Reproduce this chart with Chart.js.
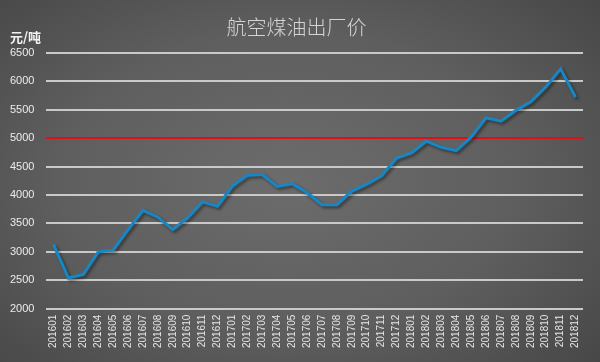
<!DOCTYPE html>
<html>
<head>
<meta charset="utf-8">
<script src="https://cdn.jsdelivr.net/npm/chart.js@4/dist/chart.umd.min.js"></script>
<style>
  html, body { margin: 0; padding: 0; }
  #wrap {
    width: 600px; height: 362px; position: relative;
    background: radial-gradient(ellipse 70% 75% at 48% 50%, #6c6c6c 0%, #5e5e5e 55%, #474747 100%);
  }
</style>
</head>
<body>
<div id="wrap"><canvas id="chart" width="600" height="362"></canvas></div>
<script>
const months = [
  '201601','201602','201603','201604','201605','201606','201607','201608','201609','201610','201611','201612',
  '201701','201702','201703','201704','201705','201706','201707','201708','201709','201710','201711','201712',
  '201801','201802','201803','201804','201805','201806','201807','201808','201809','201810','201811','201812'
];
const price = [
  3130, 2540, 2600, 3000, 3030, 3390, 3730, 3610, 3390, 3600, 3880, 3800,
  4160, 4350, 4360, 4150, 4200, 4040, 3830, 3830, 4070, 4190, 4340, 4650,
  4740, 4950, 4840, 4780, 5020, 5360, 5300, 5490, 5640, 5900, 6220, 5720
];
const yMin = 2000;
const yMax = 6500;
const yStep = 500;
const refLine = 5000;
const title = '航空煤油出厂价';
const unit = '元/吨';

const fontCJK = '"Noto Sans CJK SC", "Noto Sans", sans-serif';

// shadow under the blue line + unit label in the corner
const extras = {
  id: 'extras',
  beforeDatasetsDraw(chart) {
    const c = chart.ctx;
    c.save();
    c.shadowColor = 'rgba(0,0,0,0.45)';
    c.shadowBlur = 3;
    c.shadowOffsetX = 2;
    c.shadowOffsetY = 2;
  },
  afterDatasetsDraw(chart) {
    chart.ctx.restore();
  },
  afterDraw(chart) {
    const c = chart.ctx;
    c.save();
    c.fillStyle = '#f2f2f2';
    c.font = 'bold 13px ' + fontCJK;
    c.textBaseline = 'middle';
    c.fillText(unit, 10, 37);
    c.restore();
  }
};

new Chart(document.getElementById('chart'), {
  type: 'line',
  data: {
    labels: months,
    datasets: [{
      data: price,
      borderColor: '#1786c4',
      borderWidth: 3,
      pointRadius: 0,
      tension: 0,
      fill: false
    }]
  },
  options: {
    responsive: false,
    animation: false,
    layout: { padding: { left: 10, right: 17, top: 0, bottom: 8 } },
    plugins: {
      legend: { display: false },
      tooltip: { enabled: false },
      title: {
        display: true,
        text: title,
        color: '#d4d4d4',
        font: { family: fontCJK, size: 20, weight: 300 },
        padding: { top: 15, bottom: 14 }
      }
    },
    scales: {
      x: {
        offset: true,
        grid: { display: false, drawTicks: false },
        border: { display: false },
        ticks: {
          color: '#e6e6e6',
          font: { family: 'Liberation Sans, Arial, sans-serif', size: 10 },
          minRotation: 90,
          maxRotation: 90,
          autoSkip: false,
          padding: 6
        }
      },
      y: {
        min: yMin,
        max: yMax,
        afterFit(scale) { scale.width = 36; },
        grid: {
          drawTicks: false,
          lineWidth: 2,
          color: (ctx) => ctx.tick && ctx.tick.value === refLine ? '#e0101a' : '#c9c9c9'
        },
        border: { display: false },
        ticks: {
          stepSize: yStep,
          color: '#ececec',
          font: { family: 'Liberation Sans, Arial, sans-serif', size: 11 },
          crossAlign: 'far',
          padding: 10,
          callback: (v) => String(v)
        }
      }
    }
  },
  plugins: [extras]
});
</script>
</body>
</html>
